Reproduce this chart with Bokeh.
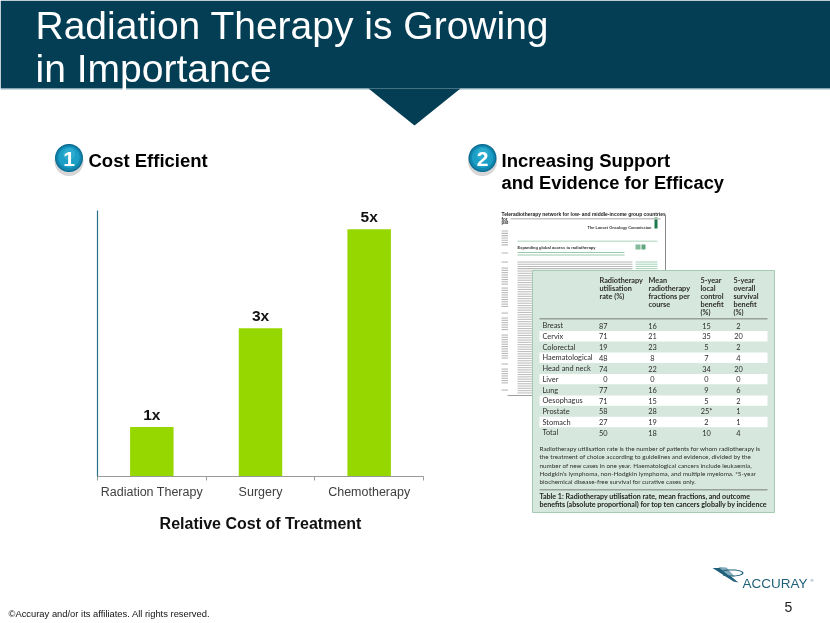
from bokeh.plotting import figure
from bokeh.embed import file_html
from bokeh.layouts import column
from bokeh.resources import INLINE
from bokeh.models import Range1d, FixedTicker
from bokeh.core.properties import value
import numpy as np

# ---- chart data
treatments = ["Radiation Therapy", "Surgery", "Chemotherapy"]
relative_cost = [1, 3, 5]
cost_labels = ["1x", "3x", "5x"]

# ---- table data
table_rows = ["Breast", "Cervix", "Colorectal", "Haematological", "Head and neck", "Liver",
              "Lung", "Oesophagus", "Prostate", "Stomach", "Total"]
utilisation = ["87", "71", "19", "48", "74", "0", "77", "71", "58", "27", "50"]
fractions = ["16", "21", "23", "8", "22", "0", "16", "15", "28", "19", "18"]
local_control = ["15", "35", "5", "7", "34", "0", "9", "5", "25*", "2", "10"]
overall_survival = ["2", "20", "2", "4", "20", "0", "6", "2", "1", "1", "4"]
header_1 = ["Radiotherapy", "utilisation", "rate (%)"]
header_2 = ["Mean", "radiotherapy", "fractions per", "course"]
header_3 = ["5-year", "local", "control", "benefit", "(%)"]
header_4 = ["5-year", "overall", "survival", "benefit", "(%)"]
footnote = [
    "Radiotherapy utilisation rate is the number of patients for whom radiotherapy is",
    "the treatment of choice according to guidelines and evidence, divided by the",
    "number of new cases in one year. Haematological cancers include leukaemia,",
    "Hodgkin\u2019s lymphoma, non-Hodgkin lymphoma, and multiple myeloma. *5-year",
    "biochemical disease-free survival for curative cases only.",
]
caption = [
    "Table 1: Radiotherapy utilisation rate, mean fractions, and outcome",
    "benefits (absolute proportional) for top ten cancers globally by incidence",
]

W, H = 830, 623

# ---- slide canvas: one unit is one pixel of the slide
bg = figure(width=W, height=H, output_backend="svg", toolbar_location=None,
            x_range=Range1d(0, W), y_range=Range1d(H, 0), min_border=0,
            x_axis_location=None, y_axis_location=None, frame_align=False,
            background_fill_color="white", border_fill_color="white")
bg.grid.visible = False
bg.outline_line_color = None
bg.styles = {"position": "fixed", "left": "0px", "top": "0px"}


def txt(x, y, s, size, color="#000000", bold=False, font="Liberation Sans", align="left"):
    # y is the text baseline on the slide
    bg.text(x=[x], y=[y - 0.33 * size], text=[s], text_font=value(font), text_font_size=f"{size}px",
            text_color=color, text_font_style="bold" if bold else "normal",
            text_align=align, text_baseline="middle")


def box(l, t, r, b, color, alpha=1.0, line=None):
    bg.quad(left=[l], right=[r], top=[t], bottom=[b], fill_color=color, fill_alpha=alpha,
            line_color=line, line_width=1)


def poly(xs, ys, color, alpha=1.0):
    bg.patch(list(xs), list(ys), fill_color=color, fill_alpha=alpha, line_color=None)


def disc(cx, cy, r, color, alpha=1.0):
    t = np.linspace(0, 2 * np.pi, 64, endpoint=False)
    poly(cx + r * np.cos(t), cy + r * np.sin(t), color, alpha)


# ---- header
box(0, 0, W, 88, "#033e54")
box(0, 88, W, 89, "#8fb3bf")
poly([368, 460, 414], [88, 88, 125], "#033e54")
txt(35, 37.5, "Radiation Therapy is Growing", 39, "#ffffff")
txt(35, 80.5, "in Importance", 39, "#ffffff")

# ---- numbered headings
for cx, n in [(68.5, "1"), (482, "2")]:
    disc(cx, 161, 14.5, "#8a8a8a", 0.35)
    disc(cx, 157.5, 14, "#0d6f95")
    disc(cx, 157.5, 12.5, "#1288b0")
    disc(cx, 157, 10.5, "#1c9fc6")
    disc(cx, 153.5, 6, "#3bb4d6", 0.55)
    txt(cx, 165, n, 21, "#ffffff", True, align="center")
txt(88, 166, "Cost Efficient", 18.5, "#000000", True)
txt(501, 166, "Increasing Support", 18.5, "#000000", True)
txt(501, 188, "and Evidence for Efficacy", 18.3, "#000000", True)

# ---- chart caption
txt(260, 528, "Relative Cost of Treatment", 16, "#111111", True, align="center")

# ---- journal page behind the table
box(664.5, 215, 665.5, 272, "#8a8a8a")
box(507, 394.5, 533, 395.5, "#a0a0a0")
box(654, 217, 657, 228, "#1c7a4e")
box(517, 240.3, 657, 241.1, "#8fc4a5")
txt(501, 215.5, "Teleradiotherapy network for low- and middle-income group countries", 4.95, "#222222", True)
txt(501, 220.5, "for", 4.6, "#333333", True)
txt(501, 223.5, "pat", 4.6, "#333333", True)
box(510, 217.6, 660, 219, "#c4c4c4")
txt(651, 228.5, "The Lancet Oncology Commission", 3.9, "#333333", True, align="right")
txt(517, 248.5, "Expanding global access to radiotherapy", 4.0, "#333333", True)
box(635, 244, 640, 249, "#4f9c70", 0.7)
box(641, 244, 645, 249, "#4f9c70", 0.9)
for y in (251.5, 254):
    box(517, y, 624, y + 1.1, "#7fbd99", 0.8)
for y in np.arange(261, 269, 2.2):
    box(517, y, 632, y + 1.1, "#9a9a9a", 0.7)
for y in np.arange(261, 268, 2.2):
    box(635, y, 657, y + 1.0, "#8fc4a5", 0.8)
for y0, y1 in [(230, 245), (252, 254), (261, 262), (267, 285), (287, 307), (312, 313),
               (317, 330), (334, 357), (363, 364), (368, 382), (389, 390)]:
    for y in np.arange(y0, y1 + 0.1, 2.3):
        box(501, y, 507.5, y + 1.1, "#9a9a9a", 0.7)
for y in np.arange(270, 393, 2.3):
    box(517, y, 532, y + 1.1, "#a4a4a4", 0.7)

# ---- table panel
box(532, 270, 774, 512, "#d6e7dd", 1.0, "#a3cbb3")
for i in (1, 3, 5, 7, 9):
    y = 325 + 10.73 * i
    box(539, y - 5.2, 767, y + 5.2, "#ffffff")
box(539, 317.9, 767, 318.8, "#5a5a5a")
box(539, 489, 767, 489.8, "#5a5a5a")

TF = "Lato"
TC = "#2e2e2e"
for x, head in [(599, header_1), (648, header_2), (700, header_3), (733, header_4)]:
    for j, line in enumerate(head):
        txt(x, 282 + 8.05 * j, line, 7.3, "#2e2e2e", True, TF)
for i, name in enumerate(table_rows):
    y = 327.6 + 10.73 * i
    txt(542, y, name, 7.4, TC, False, TF)
    txt(607, y, utilisation[i], 7.4, TC, False, TF, "right")
    txt(652, y, fractions[i], 7.4, TC, False, TF, "center")
    txt(706, y, local_control[i], 7.4, TC, False, TF, "center")
    txt(738, y, overall_survival[i], 7.4, TC, False, TF, "center")
for j, line in enumerate(footnote):
    txt(539, 450.5 + 8.05 * j, line, 6.35, "#2e2e2e", False, TF)
for j, line in enumerate(caption):
    txt(539, 498.5 + 8.2 * j, line, 7.1, "#1e1e1e", True, TF)

# ---- logo, footer
L = "#1f5f7a"
poly([712, 720, 738, 733], [567.5, 567.5, 582, 581], L)
poly([718, 726, 734, 728], [566.5, 567, 576, 575], "#7fa8b8")
t = np.linspace(-2.6, 2.4, 30)
ox = 731 + 12 * np.cos(t)
oy = 572.5 + 3.6 * np.sin(t)
ix = 731 + 10.5 * np.cos(t)
iy = 572.5 + 2.6 * np.sin(t)
poly(np.r_[ox, ix[::-1]], np.r_[oy, iy[::-1]], L)
txt(742, 587, "ACCURAY", 13.5, L)
txt(810, 581, "\u00ae", 4, L)
txt(788, 611, "5", 14, "#222222", align="center")
txt(8, 616, "\u00a9Accuray and/or its affiliates. All rights reserved.", 9.4, "#111111")

# ---- bar chart, laid over the slide
C_X, C_Y = 77, 190
F_L, F_R, F_T, F_B = 97, 423, 210, 476
chart = figure(width=370, height=320, output_backend="svg", toolbar_location=None,
               x_range=Range1d(0, 3), y_range=Range1d(0, 5.38), frame_align=False,
               min_border_left=F_L - C_X, min_border_right=C_X + 370 - F_R,
               min_border_top=F_T - C_Y, min_border_bottom=C_Y + 320 - F_B,
               background_fill_color=None, border_fill_color=None)
chart.styles = {"position": "fixed", "left": f"{C_X}px", "top": f"{C_Y}px"}
chart.outline_line_color = None
chart.grid.visible = False

xc = [i + 0.5 for i in range(len(treatments))]
chart.vbar(x=xc, top=relative_cost, width=0.4, bottom=0, fill_color="#97d700", line_color=None)

xa = chart.xaxis[0]
xa.ticker = FixedTicker(ticks=xc, minor_ticks=[0, 1, 2, 3])
xa.major_label_overrides = {x: t for x, t in zip(xc, treatments)}
xa.major_tick_line_color = None
xa.minor_tick_line_color = "#9a9a9a"
xa.minor_tick_out = 4
xa.minor_tick_in = 0
xa.axis_line_color = "#9a9a9a"
xa.major_label_text_font = "Liberation Sans"
xa.major_label_text_font_size = "12.5px"
xa.major_label_text_color = "#404040"
xa.major_label_standoff = 2

ya = chart.yaxis[0]
ya.ticker = FixedTicker(ticks=[])
ya.axis_line_color = "#2a6f88"
ya.axis_line_width = 1.2
ya.major_tick_line_color = None
ya.minor_tick_line_color = None

chart.text(x=xc, y=relative_cost, text=cost_labels, text_font_size="15.5px", text_font_style="bold",
           text_font=value("Liberation Sans"), text_color="#111111", text_align="center",
           text_baseline="bottom", y_offset=-4)

page = column(bg, chart)
open("out.html", "w").write(file_html(page, INLINE))
